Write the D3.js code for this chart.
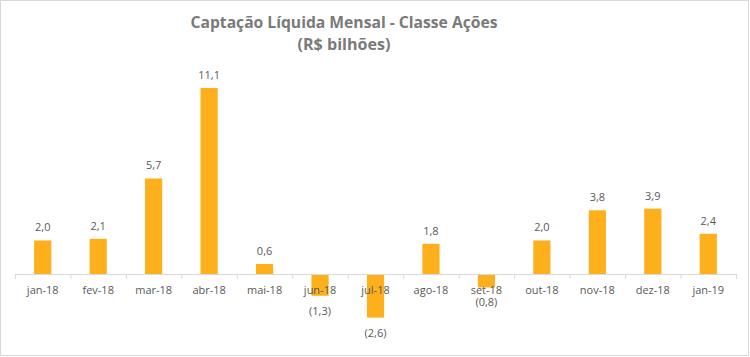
<!DOCTYPE html>
<html><head><meta charset="utf-8">
<script src="https://cdn.jsdelivr.net/npm/d3@7"></script>
<style>body{margin:0;background:#fff;} svg{display:block;}</style>
</head><body>
<svg id="chart" width="750" height="357"></svg>
<script>
const categories = ["jan-18","fev-18","mar-18","abr-18","mai-18","jun-18","jul-18","ago-18","set-18","out-18","nov-18","dez-18","jan-19"];
const values = [2.0,2.1,5.7,11.1,0.6,-1.3,-2.6,1.8,-0.8,2.0,3.8,3.9,2.4];
const titleLines = ["Captação Líquida Mensal - Classe Ações","(R$ bilhões)"];

const svg = d3.select("#chart");
const font = "'Open Sans', 'Liberation Sans', sans-serif";
svg.append("rect").attr("x",0.5).attr("y",0.5).attr("width",748).attr("height",355)
  .attr("fill","#fff").attr("stroke","#d9d9d9");

const x = d3.scaleBand().domain(categories).range([15,736]).paddingInner(0.69).paddingOuter(0.345);
const y = d3.scaleLinear().domain([0,11.1]).range([274,88]);
const fmt = v => { const s = Math.abs(v).toFixed(1).replace(".",","); return v<0?"("+s+")":s; };

svg.selectAll("rect.bar").data(values).join("rect").attr("class","bar")
  .attr("x",(d,i)=>x(categories[i])).attr("width",x.bandwidth())
  .attr("y",d=>y(Math.max(0,d))).attr("height",d=>Math.abs(y(d)-y(0)))
  .attr("fill","#FDB01B");

const axis = d3.axisBottom(x).tickSize(0).tickPadding(0);
const gx = svg.append("g").attr("transform",`translate(0,${y(0)})`).call(axis);
gx.select(".domain").remove();
gx.selectAll("text").attr("dy",0).attr("y",19.5).attr("fill","#595959")
  .style("font-family",font).style("font-size","11px");
svg.append("line").attr("x1",15).attr("x2",736).attr("y1",y(0)+0.5).attr("y2",y(0)+0.5).attr("stroke","#d9d9d9");
const step = (736-15)/categories.length;
svg.selectAll("line.tk").data(d3.range(categories.length+1)).join("line").attr("class","tk")
  .attr("x1",i=>15+i*step+0.5).attr("x2",i=>15+i*step+0.5)
  .attr("y1",y(0)).attr("y2",y(0)+5).attr("stroke","#d9d9d9");

svg.selectAll("text.lbl").data(values).join("text").attr("class","lbl")
  .attr("x",(d,i)=>x(categories[i])+x.bandwidth()/2)
  .attr("y",d=> d>=0 ? y(d)-9 : y(d)+19)
  .attr("text-anchor","middle").attr("fill","#595959")
  .style("font-family",font).style("font-size","11px").text(fmt);

svg.selectAll("text.title").data(titleLines).join("text").attr("class","title")
  .attr("x",344).attr("y",(d,i)=>28+i*22).attr("text-anchor","middle")
  .attr("fill","#7a7a7a").style("font-family",font).style("font-weight","bold")
  .style("font-size","16px")
  .attr("textLength",(d,i)=> i===0 ? 307 : 93).attr("lengthAdjust","spacingAndGlyphs")
  .text(d=>d);
</script>
</body></html>
